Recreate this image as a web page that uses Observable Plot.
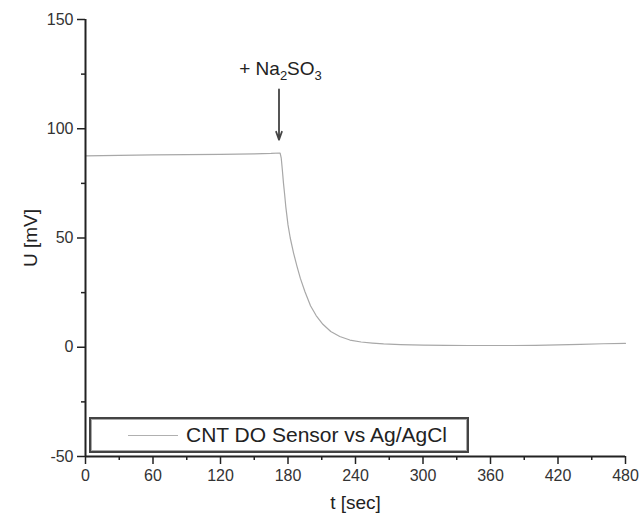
<!DOCTYPE html>
<html>
<head>
<meta charset="utf-8">
<script src="https://cdn.jsdelivr.net/npm/d3@7"></script>
<script src="https://cdn.jsdelivr.net/npm/@observablehq/plot@0.6"></script>
<style>
  html, body { margin: 0; padding: 0; background: #fff; }
  #wrap { position: relative; width: 640px; height: 526px; font-family: "Liberation Sans", Arial, sans-serif; }
  #legend { position: absolute; left: 89px; top: 417px; width: 376px; height: 32px;
    border: 2px solid #444; box-shadow: inset 0 0 0 1px #aaa; background: #fff;
    display: flex; align-items: center; box-sizing: content-box; }
  #legend .sw { display: inline-block; width: 50px; height: 0; border-top: 1.2px solid #b0b0b0; margin-left: 37px; margin-right: 8px; }
  #legend .lb { font-size: 21px; color: #222; }
</style>
</head>
<body>
<div id="wrap"></div>
<script>
// Time (sec) and potential U (mV)
const times = [0, 30, 60, 90, 120, 150, 165, 173, 174, 175, 176, 177, 178, 180, 182, 185, 188, 191, 195, 200, 205, 211, 218, 226, 235, 245, 255, 265, 280, 300, 320, 340, 360, 380, 400, 420, 440, 460, 480];
const volts = [87.6, 87.8, 88.0, 88.2, 88.3, 88.5, 88.7, 88.9, 86.5, 81, 75, 70, 64.5, 56, 50, 43, 37, 31.5, 25.5, 19, 14.5, 10.5, 7.2, 4.9, 3.3, 2.4, 1.9, 1.5, 1.2, 1.0, 0.9, 0.8, 0.8, 0.8, 0.9, 1.1, 1.3, 1.6, 1.8];

const xTicks = [0, 60, 120, 180, 240, 300, 360, 420, 480];
const xMinor = [30, 90, 150, 210, 270, 330, 390, 450];
const yTicks = [-50, 0, 50, 100, 150];
const yMinor = [-25, 25, 75, 125];

const seriesName = "CNT DO Sensor vs Ag/AgCl";
const eventTime = [172];
const arrowFrom = [118];
const arrowTo = [95];

const data = times.map((t, i) => ({t, u: volts[i]}));

const font = "Liberation Sans, Arial, sans-serif";
const axisColor = "#222";

const plot = Plot.plot({
  width: 640,
  height: 526,
  marginLeft: 85,
  marginRight: 15,
  marginTop: 19,
  marginBottom: 70,
  style: {fontFamily: font, color: axisColor, background: "#fff"},
  x: {domain: [0, 480]},
  y: {domain: [-50, 150]},
  marks: [
    Plot.axisX({ticks: xTicks, tickSize: 8, tickPadding: 5, fontSize: 16, fill: "#333", strokeWidth: 1.5,
      tickFormat: d => String(d),
      label: "t [sec]", labelAnchor: "center", labelArrow: "none", labelOffset: 52}),
    Plot.axisX({ticks: xMinor, tickSize: 4, text: null, label: null, strokeWidth: 1.5}),
    Plot.axisY({ticks: yTicks, tickSize: 8, tickPadding: 4, fontSize: 16, fill: "#333", strokeWidth: 1.5,
      tickFormat: d => String(d),
      label: "U [mV]", labelAnchor: "center", labelArrow: "none", labelOffset: 62}),
    Plot.axisY({ticks: yMinor, tickSize: 4, text: null, label: null, strokeWidth: 1.5}),
    Plot.line(data, {x: "t", y: "u", stroke: "#a8a8a8", strokeWidth: 1.2}),
    Plot.arrow(eventTime, {x1: d => d, x2: d => d, y1: (d, i) => arrowFrom[i], y2: (d, i) => arrowTo[i],
      stroke: "#444", strokeWidth: 1.8, headLength: 7, headAngle: 40}),
    Plot.ruleX([0], {stroke: axisColor, strokeWidth: 2}),
    Plot.ruleY([-50], {stroke: axisColor, strokeWidth: 2})
  ]
});

// style axis labels larger
d3.select(plot).selectAll("g[aria-label='x-axis label'] text, g[aria-label='y-axis label'] text")
  .attr("font-size", 19).attr("fill", "#222");

// annotation with subscripts
const sx = plot.scale("x"), sy = plot.scale("y");
const ax = sx.apply(eventTime[0]);
const ay = sy.apply(arrowFrom[0]) - 14;
const t = d3.select(plot).append("text")
  .attr("x", ax + 2).attr("y", ay)
  .attr("text-anchor", "middle")
  .attr("font-family", font)
  .attr("font-size", 19)
  .attr("fill", "#222");
t.append("tspan").text("+ Na");
t.append("tspan").attr("font-size", 13).attr("dy", 5).text("2");
t.append("tspan").attr("dy", -5).text("SO");
t.append("tspan").attr("font-size", 13).attr("dy", 5).text("3");

const wrap = document.getElementById("wrap");
wrap.appendChild(plot);
const legend = document.createElement("div");
legend.id = "legend";
legend.innerHTML = `<span class="sw"></span><span class="lb"></span>`;
legend.querySelector(".lb").textContent = seriesName;
wrap.appendChild(legend);
</script>
</body>
</html>
